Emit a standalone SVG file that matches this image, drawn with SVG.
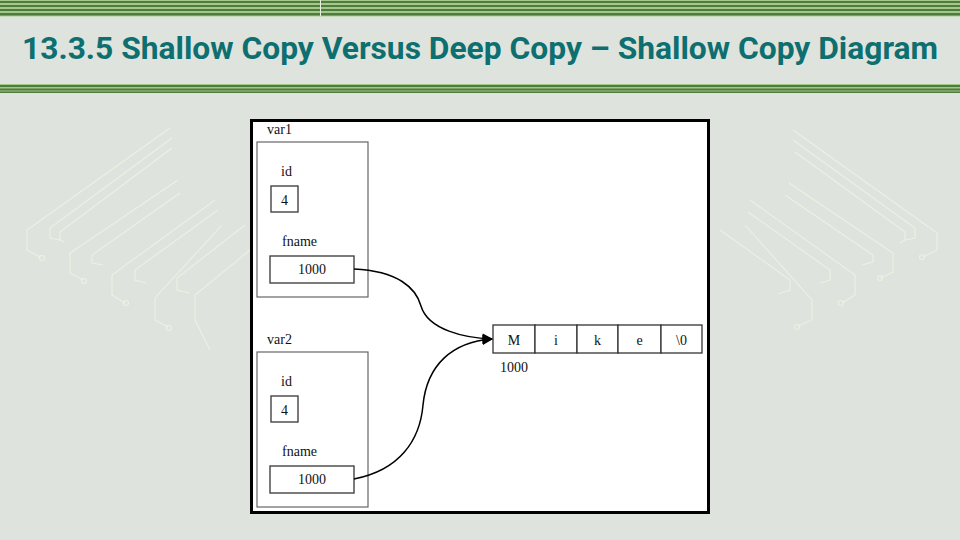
<svg xmlns="http://www.w3.org/2000/svg" width="960" height="540" viewBox="0 0 960 540">
<defs>
<style>
.t{font-family:"Liberation Serif","Times New Roman",serif;font-size:14px;fill:#111}
.box{fill:#fff;stroke:#444;stroke-width:1.4}
.vbox{fill:#fff;stroke:#666;stroke-width:1.2}
.cell{fill:#fff;stroke:#333;stroke-width:1.3}
.conn{fill:none;stroke:#000;stroke-width:1.5}
.trace{fill:none;stroke:#f2f6e4;stroke-width:1.1;opacity:.7}
.dot{fill:none;stroke:#f2f6e4;stroke-width:1.1;opacity:.7}
.dk{fill:#4e7c3c}
.lt{fill:#a6c78c}
</style>
<marker id="ah" viewBox="0 0 10 10" refX="9" refY="5" markerWidth="7.5" markerHeight="7" orient="auto" markerUnits="strokeWidth">
<path d="M0,0 L10,5 L0,10 z" fill="#000"/>
</marker>
</defs>
<rect width="960" height="540" fill="#dfe3dd"/>
<g id="traces">
<path class="trace" d="M170,128 L27,230 L27,250 L40,257"/>
<circle class="dot" cx="42" cy="258" r="2.5"/>
<path class="trace" d="M172,138 L50,228 L50,238 L60,240"/>
<path class="trace" d="M172,148 L60,232 L60,240 L64,242"/>
<path class="trace" d="M178,180 L70,253 L70,273 L83,280"/>
<circle class="dot" cx="84" cy="281" r="2.5"/>
<path class="trace" d="M180,193 L92,255 L92,263 L103,265"/>
<path class="trace" d="M215,200 L112,275 L112,295 L125,303"/>
<circle class="dot" cx="126" cy="303" r="2.5"/>
<path class="trace" d="M218,210 L135,270 L135,280 L146,283"/>
<path class="trace" d="M222,225 L155,298 L155,320 L168,327"/>
<circle class="dot" cx="169" cy="328" r="2.5"/>
<path class="trace" d="M245,225 L177,278 L177,290 L190,293"/>
<path class="trace" d="M250,250 L195,295 L195,320 L210,350"/>
<path class="trace" d="M793,130 L937,233 L937,250 L923,257"/>
<circle class="dot" cx="922" cy="257" r="2.5"/>
<path class="trace" d="M793,140 L915,228 L915,238 L905,240"/>
<path class="trace" d="M795,152 L905,232 L905,240 L900,243"/>
<path class="trace" d="M789,183 L893,253 L893,272 L880,278"/>
<circle class="dot" cx="880" cy="278" r="2.5"/>
<path class="trace" d="M785,195 L873,255 L873,262 L862,265"/>
<path class="trace" d="M750,200 L855,275 L855,295 L842,303"/>
<circle class="dot" cx="841" cy="303" r="2.5"/>
<path class="trace" d="M748,212 L830,270 L830,280 L820,283"/>
<path class="trace" d="M745,225 L812,300 L812,320 L798,326"/>
<circle class="dot" cx="797" cy="327" r="2.5"/>
<path class="trace" d="M720,230 L790,280 L790,290 L778,294"/>
</g>
<g id="bands">
<rect x="0" y="0" width="960" height="16" class="lt"/>
<rect x="0" y="1" width="960" height="2" class="dk"/>
<rect x="0" y="5" width="960" height="2" class="dk"/>
<rect x="0" y="9" width="960" height="2" class="dk"/>
<rect x="0" y="13" width="960" height="2.5" class="dk"/>
<rect x="0" y="16" width="960" height="1" fill="#c6d9b8"/>
<line x1="320.5" y1="0" x2="320.5" y2="16" stroke="#e8f0e0" stroke-width="1"/>
<rect x="0" y="84" width="960" height="9" class="lt"/>
<rect x="0" y="85" width="960" height="2" class="dk"/>
<rect x="0" y="88.5" width="960" height="2" class="dk"/>
<rect x="0" y="91.5" width="960" height="1.5" class="dk"/>
</g>
<text x="22" y="59" textLength="916" lengthAdjust="spacingAndGlyphs" font-family="Roboto,'Noto Sans','Liberation Sans',sans-serif" font-weight="bold" font-size="31" fill="#0d6f6f">13.3.5 Shallow Copy Versus Deep Copy – Shallow Copy Diagram</text>
<rect x="251.5" y="120.5" width="457" height="392" fill="#fff" stroke="#000" stroke-width="3"/>
<g id="var1">
<text class="t" x="267" y="134">var1</text>
<rect class="vbox" x="257" y="142" width="111" height="155"/>
<text class="t" x="281" y="176">id</text>
<rect class="box" x="271" y="186" width="27" height="26"/>
<text class="t" x="284.5" y="205" text-anchor="middle">4</text>
<text class="t" x="282" y="246">fname</text>
<rect class="box" x="270" y="256" width="84" height="27"/>
<text class="t" x="312" y="274" text-anchor="middle">1000</text>
</g>
<g id="var2">
<text class="t" x="267" y="344">var2</text>
<rect class="vbox" x="257" y="352" width="111" height="155"/>
<text class="t" x="281" y="386">id</text>
<rect class="box" x="271" y="396" width="27" height="26"/>
<text class="t" x="284.5" y="415" text-anchor="middle">4</text>
<text class="t" x="282" y="456">fname</text>
<rect class="box" x="270" y="466" width="84" height="27"/>
<text class="t" x="312" y="484" text-anchor="middle">1000</text>
</g>
<g id="array">
<rect class="cell" x="493" y="325" width="42" height="28"/>
<rect class="cell" x="535" y="325" width="42" height="28"/>
<rect class="cell" x="577" y="325" width="41" height="28"/>
<rect class="cell" x="618" y="325" width="43" height="28"/>
<rect class="cell" x="661" y="325" width="41" height="28"/>
<text class="t" x="514" y="345" text-anchor="middle">M</text>
<text class="t" x="556" y="345" text-anchor="middle">i</text>
<text class="t" x="597.5" y="345" text-anchor="middle">k</text>
<text class="t" x="639.5" y="345" text-anchor="middle">e</text>
<text class="t" x="681.5" y="345" text-anchor="middle">\0</text>
<text class="t" x="500" y="372">1000</text>
</g>
<g id="connectors">
<path class="conn" marker-end="url(#ah)" d="M354,269 C398,271 416,288 421,306 C428,330 465,338 492,339"/>
<path class="conn" marker-end="url(#ah)" d="M354,479 C400,470 420,440 423,405 C427,365 452,342 492,339"/>
</g>
</svg>
